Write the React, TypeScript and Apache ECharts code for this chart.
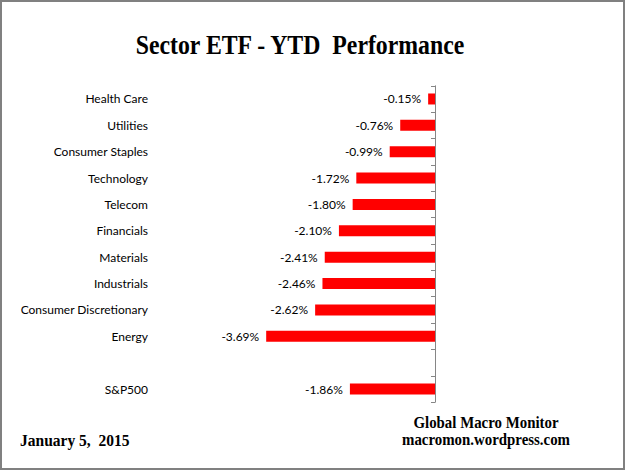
import React, { useEffect, useRef } from "react";
import * as echarts from "echarts";

const categories = [
  "Health Care",
  "Utilities",
  "Consumer Staples",
  "Technology",
  "Telecom",
  "Financials",
  "Materials",
  "Industrials",
  "Consumer Discretionary",
  "Energy",
  "",
  "S&P500",
];
const values: (number | null)[] = [-0.15, -0.76, -0.99, -1.72, -1.8, -2.1, -2.41, -2.46, -2.62, -3.69, null, -1.86];
const titleText = "Sector ETF - YTD  Performance";
const dateText = "January 5,  2015";
const sourceLine1 = "Global Macro Monitor";
const sourceLine2 = "macromon.wordpress.com";

export default function App() {
  const ref = useRef<HTMLDivElement>(null);
  useEffect(() => {
    if (!ref.current) return;
    const chart = echarts.init(ref.current, undefined, { renderer: "svg" });
    const zeroX = 435;
    const perUnit = 45.75;
    const minV = -5;
    chart.setOption({
      animation: false,
      backgroundColor: "#ffffff",
      grid: {
        left: zeroX + minV * perUnit,
        right: 625 - zeroX,
        top: 85.8,
        bottom: 470 - 402.2,
      },
      xAxis: {
        type: "value",
        min: minV,
        max: 0,
        show: false,
      },
      yAxis: {
        type: "category",
        data: categories,
        inverse: true,
        position: "right",
        axisLine: { show: true, onZero: false, lineStyle: { color: "#868686", width: 1 } },
        axisTick: { show: true, inside: true, length: 4, lineStyle: { color: "#868686" } },
        axisLabel: {
          inside: true,
          margin: 287,
          align: "right",
          color: "#000000",
          fontFamily: "Lato",
          fontSize: 12,
        },
        splitLine: { show: false },
      },
      series: [
        {
          type: "bar",
          data: values,
          barWidth: 11,
          itemStyle: { color: "#ff0000" },
          label: {
            show: true,
            position: "left",
            distance: 7,
            color: "#000000",
            fontFamily: "Lato",
            fontSize: 12,
            formatter: (p: any) => (p.value == null ? "" : `${Number(p.value).toFixed(2)}%`),
          },
        },
      ],
      graphic: [
        {
          type: "rect",
          shape: { x: 1, y: 1, width: 623, height: 468 },
          style: { fill: "none", stroke: "#808080", lineWidth: 2 },
          silent: true,
        },
        {
          type: "text",
          x: 300,
          y: 45,
          scaleX: 0.85,
          style: {
            text: titleText,
            font: "bold 28px 'Liberation Serif'",
            fill: "#000000",
            align: "center",
            verticalAlign: "middle",
          },
        },
        {
          type: "text",
          x: 20,
          y: 440,
          scaleX: 0.97,
          style: {
            text: dateText,
            font: "bold 16px 'Liberation Serif'",
            fill: "#000000",
            align: "left",
            verticalAlign: "middle",
          },
        },
        {
          type: "text",
          x: 486,
          y: 422,
          scaleX: 0.93,
          style: {
            text: sourceLine1,
            font: "bold 16px 'Liberation Serif'",
            fill: "#000000",
            align: "center",
            verticalAlign: "middle",
          },
        },
        {
          type: "text",
          x: 486,
          y: 439,
          scaleX: 0.93,
          style: {
            text: sourceLine2,
            font: "bold 16px 'Liberation Serif'",
            fill: "#000000",
            align: "center",
            verticalAlign: "middle",
          },
        },
      ],
    });
    return () => chart.dispose();
  }, []);
  return (
    <div
      ref={ref}
      style={{ position: "fixed", left: 0, top: 0, width: 625, height: 470 }}
    />
  );
}
